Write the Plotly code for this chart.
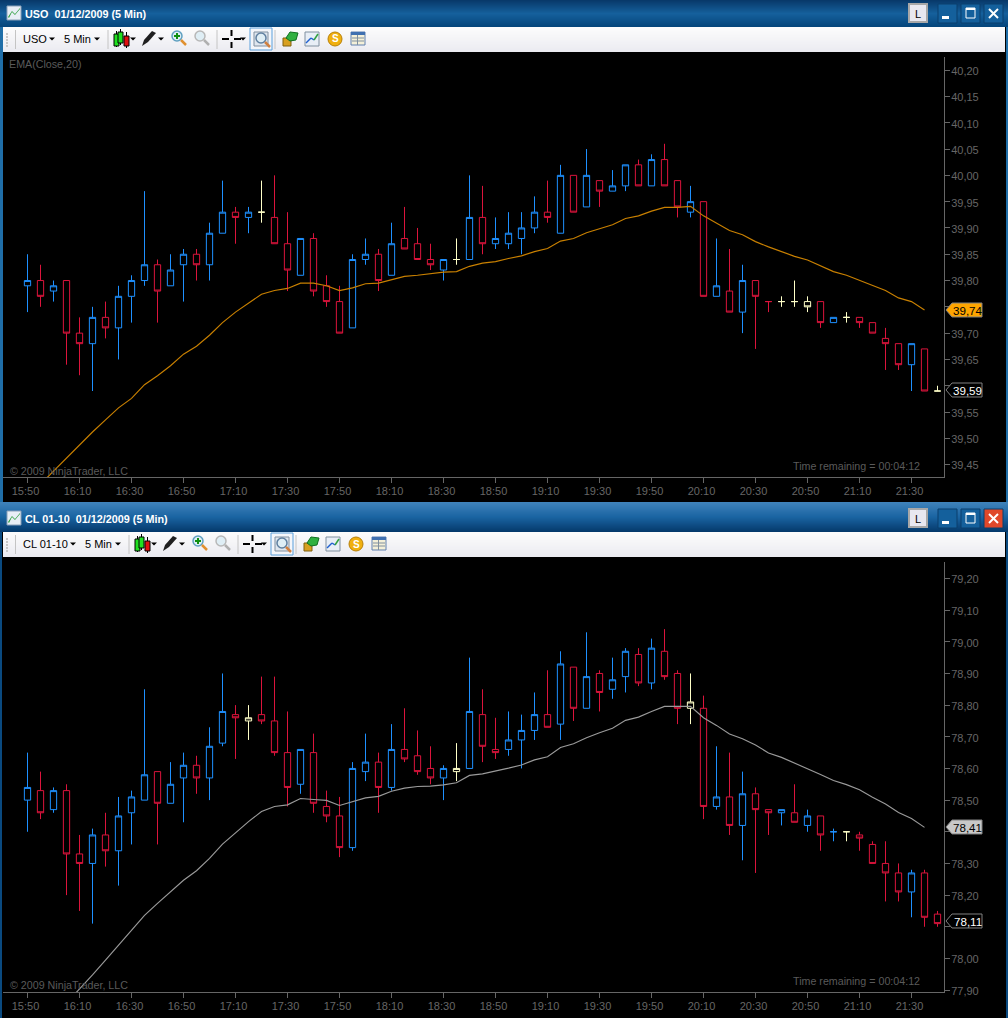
import plotly.graph_objects as go
import pandas as pd

# 5 minute bars, 01/12/2009
bar_times = pd.date_range("2009-12-01 15:50", "2009-12-01 21:40", freq="5min")

# b = blue, r = red, y = pale yellow bar
uso_kind = list("brbrrbrbbbrbbrbbrbyrrbrrrbbrbrrrbybrbbbbrbrbrbbrbrrbrbrbrryyyrbyrrrrbry")
uso_open = [39.79,39.80,39.78,39.80,39.70,39.68,39.73,39.71,39.77,39.80,39.83,39.79,39.83,39.85,39.83,39.89,39.93,39.92,39.93,39.92,
            39.87,39.81,39.88,39.79,39.76,39.71,39.84,39.85,39.81,39.88,39.87,39.84,39.82,39.84,39.84,39.92,39.87,39.87,39.88,39.90,
            39.93,39.89,40.00,39.94,39.99,39.97,39.98,40.02,39.98,40.03,39.99,39.93,39.95,39.77,39.78,39.74,39.80,39.76,39.76,39.76,
            39.76,39.76,39.72,39.73,39.73,39.72,39.69,39.68,39.64,39.67,39.59]
uso_high = [39.85,39.83,39.80,39.80,39.73,39.75,39.76,39.79,39.81,39.97,39.84,39.85,39.86,39.86,39.91,39.99,39.94,39.94,39.99,40.00,
            39.93,39.88,39.89,39.81,39.79,39.85,39.88,39.86,39.91,39.94,39.90,39.87,39.84,39.88,40.00,39.98,39.92,39.93,39.93,39.96,
            39.99,40.02,40.00,40.05,39.99,40.01,40.02,40.03,40.04,40.06,39.99,39.98,39.95,39.88,39.86,39.83,39.80,39.76,39.77,39.80,
            39.77,39.76,39.73,39.74,39.73,39.72,39.71,39.68,39.68,39.67,39.60]
uso_low = [39.74,39.75,39.76,39.64,39.62,39.59,39.69,39.65,39.72,39.79,39.72,39.79,39.76,39.80,39.80,39.89,39.87,39.89,39.91,39.87,
           39.78,39.81,39.77,39.75,39.70,39.71,39.83,39.78,39.81,39.86,39.84,39.82,39.80,39.83,39.84,39.85,39.86,39.86,39.85,39.89,
           39.91,39.89,39.93,39.94,39.94,39.97,39.97,39.98,39.98,39.98,39.92,39.92,39.77,39.77,39.74,39.70,39.67,39.74,39.75,39.75,
           39.74,39.71,39.72,39.72,39.71,39.70,39.63,39.63,39.59,39.59,39.59]
uso_close = [39.80,39.77,39.79,39.70,39.68,39.73,39.71,39.77,39.80,39.83,39.78,39.82,39.85,39.83,39.89,39.93,39.92,39.93,39.93,39.87,
             39.82,39.88,39.78,39.76,39.70,39.84,39.85,39.80,39.87,39.86,39.84,39.83,39.84,39.84,39.92,39.87,39.88,39.89,39.90,39.93,
             39.92,40.00,39.93,40.00,39.97,39.98,40.02,39.98,40.03,39.98,39.94,39.95,39.77,39.79,39.74,39.80,39.77,39.76,39.76,39.76,
             39.75,39.72,39.73,39.73,39.72,39.70,39.68,39.64,39.68,39.59,39.59]
uso_ema = [39.388,39.413,39.438,39.463,39.487,39.512,39.535,39.558,39.576,39.602,39.619,39.638,39.660,39.675,39.696,39.720,39.740,39.757,
           39.774,39.781,39.785,39.795,39.795,39.790,39.781,39.786,39.794,39.795,39.802,39.808,39.810,39.813,39.816,39.817,39.827,39.833,
           39.836,39.842,39.847,39.855,39.861,39.875,39.880,39.891,39.899,39.906,39.918,39.923,39.932,39.939,39.939,39.941,39.923,39.909,
           39.895,39.887,39.874,39.864,39.855,39.846,39.839,39.828,39.817,39.810,39.800,39.791,39.781,39.767,39.760,39.744]
# labels behind the value tags stay blank
uso_ticks = [39.45,39.50,39.55,39.60,39.65,39.70,39.75,39.80,39.85,39.90,39.95,40.00,40.05,40.10,40.15,40.20]
uso_tick_labels = ["39,45","39,50","39,55","","39,65","39,70","","39,80","39,85","39,90","39,95","40,00","40,05","40,10","40,15","40,20"]

cl_kind = list("brbrrbrbbbrbbrbbryrrrbrrrbbrbrrrbybrrbbbrbrbrbbrbrryrbrbrrbrbrbyrrrrbrr")
cl_open = [78.50,78.53,78.47,78.53,78.33,78.30,78.39,78.34,78.46,78.50,78.59,78.49,78.57,78.61,78.57,78.68,78.77,78.75,78.77,78.75,
           78.65,78.55,78.65,78.48,78.45,78.35,78.59,78.62,78.54,78.66,78.64,78.60,78.57,78.59,78.60,78.77,78.66,78.66,78.69,78.72,
           78.77,78.74,78.92,78.79,78.90,78.85,78.89,78.96,78.87,78.97,78.90,78.79,78.79,78.48,78.51,78.42,78.52,78.47,78.46,78.46,
           78.42,78.45,78.40,78.40,78.39,78.36,78.30,78.27,78.21,78.27,78.14]
cl_high = [78.65,78.59,78.54,78.55,78.39,78.41,78.46,78.51,78.53,78.85,78.59,78.62,78.65,78.64,78.73,78.90,78.80,78.80,78.89,78.89,
           78.78,78.66,78.71,78.53,78.51,78.62,78.71,78.65,78.74,78.79,78.72,78.67,78.61,78.68,78.95,78.85,78.76,78.78,78.77,78.84,
           78.91,78.97,78.92,79.03,78.91,78.95,78.98,78.98,79.01,79.04,78.91,78.90,78.83,78.67,78.65,78.59,78.54,78.47,78.47,78.55,
           78.47,78.45,78.41,78.40,78.40,78.37,78.37,78.30,78.28,78.28,78.15]
cl_low = [78.40,78.44,78.46,78.20,78.15,78.11,78.29,78.23,78.36,78.50,78.36,78.49,78.43,78.52,78.50,78.67,78.63,78.69,78.74,78.64,
          78.48,78.52,78.46,78.43,78.32,78.34,78.56,78.46,78.53,78.62,78.58,78.55,78.50,78.56,78.60,78.62,78.63,78.64,78.60,78.69,
          78.73,78.69,78.75,78.79,78.78,78.82,78.84,78.86,78.85,78.88,78.74,78.74,78.44,78.47,78.39,78.31,78.27,78.39,78.42,78.43,
          78.40,78.34,78.37,78.37,78.34,78.30,78.18,78.18,78.13,78.10,78.10]
cl_close = [78.54,78.46,78.53,78.33,78.30,78.39,78.34,78.45,78.51,78.58,78.49,78.55,78.61,78.57,78.67,78.78,78.76,78.76,78.75,78.65,
            78.54,78.66,78.49,78.45,78.35,78.60,78.62,78.54,78.66,78.63,78.59,78.57,78.60,78.60,78.78,78.67,78.65,78.69,78.72,78.77,
            78.73,78.93,78.79,78.89,78.84,78.88,78.97,78.87,78.98,78.89,78.79,78.81,78.48,78.51,78.42,78.52,78.47,78.46,78.47,78.43,
            78.45,78.39,78.40,78.40,78.38,78.30,78.27,78.21,78.27,78.13,78.11]
cl_ema = [77.726,77.770,77.815,77.859,77.903,77.948,77.995,78.042,78.086,78.136,78.174,78.210,78.247,78.277,78.316,78.361,78.397,78.432,
          78.464,78.480,78.485,78.505,78.502,78.499,78.483,78.494,78.507,78.512,78.528,78.538,78.543,78.544,78.548,78.555,78.578,78.583,
          78.591,78.601,78.611,78.627,78.637,78.666,78.678,78.697,78.713,78.727,78.752,78.762,78.780,78.796,78.796,78.796,78.760,78.736,
          78.709,78.694,78.674,78.649,78.635,78.617,78.601,78.581,78.562,78.549,78.533,78.509,78.488,78.461,78.442,78.414]
cl_ticks = [77.90,78.00,78.10,78.20,78.30,78.40,78.50,78.60,78.70,78.80,78.90,79.00,79.10,79.20]
cl_tick_labels = ["77,90","78,00","","78,20","78,30","","78,50","78,60","78,70","78,80","78,90","79,00","79,10","79,20"]

W = 1008
H = 1018
GREY = "#666666"
FONT = "Liberation Sans"
COLORS = {"b": "#1e90ff", "r": "#dc143c", "y": "#ffffc8"}

shapes = []
annots = []


def px(x):
    return x / W


def py(y):
    return 1 - y / H


def rect(x0, y0, x1, y1, fill, line=None, lw=1):
    shapes.append(dict(type="rect", xref="paper", yref="paper", x0=px(x0), x1=px(x1), y0=py(y0), y1=py(y1),
                       fillcolor=fill, line=dict(color=line or fill, width=lw if line else 0)))


def seg(x0, y0, x1, y1, color, lw=1):
    shapes.append(dict(type="line", xref="paper", yref="paper", x0=px(x0), x1=px(x1), y0=py(y0), y1=py(y1),
                       line=dict(color=color, width=lw)))


def poly(points, fill, line=None, lw=1):
    path = "M " + " L ".join(f"{px(x):.5f},{py(y):.5f}" for x, y in points) + " Z"
    shapes.append(dict(type="path", xref="paper", yref="paper", path=path, fillcolor=fill,
                       line=dict(color=line or fill, width=lw if line else 0)))


def text(x, y, s, color, size=10.7, bold=False, anchor="left"):
    annots.append(dict(xref="paper", yref="paper", x=px(x), y=py(y), text=f"<b>{s}</b>" if bold else s, showarrow=False,
                       xanchor=anchor, yanchor="middle", font=dict(family=FONT, size=size, color=color), borderpad=0))


def mix(a, b, t):
    ca = [int(a[i:i + 2], 16) for i in (1, 3, 5)]
    cb = [int(b[i:i + 2], 16) for i in (1, 3, 5)]
    return "#" + "".join(f"{round(p + (q - p) * t):02x}" for p, q in zip(ca, cb))


def gradient(x0, y0, x1, y1, stops):
    n = len(stops) - 1
    for y in range(y0, y1):
        t = (y - y0) / max(1, y1 - y0 - 1) * n
        i = min(int(t), n - 1)
        rect(x0, y, x1, y + 1, mix(stops[i], stops[i + 1], t - i))


def arrow(x, y):
    poly([(x - 3, y - 1.5), (x + 3, y - 1.5), (x, y + 1.5)], "#000000")


def magnifier(x, y, glass, handle):
    shapes.append(dict(type="circle", xref="paper", yref="paper", x0=px(x), x1=px(x + 10), y0=py(y), y1=py(y + 10),
                       fillcolor="#dfeef5", line=dict(color=glass, width=1.5)))
    seg(x + 9, y + 9, x + 14, y + 14, handle, 2.5)


def window(frame_top, top, title, symbol, shift, stops, close_col):
    # title bar
    gradient(0, frame_top, W, top + 27, stops)
    rect(7, top + 6, 21, top + 20, "#e8eef6", "#8aa0b8")
    poly([(8, top + 17), (12, top + 11), (15, top + 14), (20, top + 8), (20, top + 9), (15, top + 15), (12, top + 12), (9, top + 18)], "#30a040")
    text(24, top + 14, title, "#ffffff", 10.8, bold=True)
    # window buttons
    rect(909, top + 4, 927, top + 22, "#e8e8f0", "#a8a8a8", 2)
    text(918, top + 14, "L", "#000000", 11, anchor="center")
    for x0, fill in ((938, "#14609c"), (961, "#14609c"), (984, close_col)):
        rect(x0, top + 4, x0 + 19, top + 23, fill, "#0a3e6c")
    rect(942, top + 16, 949, top + 19, "#ffffff")
    rect(966, top + 8, 975, top + 18, "#14609c", "#ffffff", 1)
    rect(966, top + 8, 975, top + 10, "#ffffff")
    seg(989, top + 9, 998, top + 18, "#ffffff", 2)
    seg(998, top + 9, 989, top + 18, "#ffffff", 2)
    # toolbar
    y0 = top + 27
    gradient(3, y0, 1005, y0 + 25, ["#fcfcfc", "#ebebf1"])
    cy = y0 + 12
    for gy in range(y0 + 6, y0 + 20, 3):
        rect(6, gy, 8, gy + 2, "#c8c8c8")
    seg(15.5, y0 + 3, 15.5, y0 + 22, "#c4c4c4")
    text(22, cy, symbol, "#000000", 11)
    arrow(52 + shift, cy)
    text(63 + shift, cy, "5 Min", "#000000", 11)
    arrow(97 + shift, cy)
    seg(108 + shift, y0 + 3, 108 + shift, y0 + 22, "#c4c4c4")
    # candle icon
    seg(116.5 + shift, cy - 8, 116.5 + shift, cy + 8, "#000000")
    rect(114 + shift, cy - 5, 119 + shift, cy + 7, "#20e020", "#000000")
    seg(120.5 + shift, cy - 10, 120.5 + shift, cy + 6, "#000000")
    rect(118 + shift, cy - 7, 123 + shift, cy + 4, "#20e020", "#000000")
    seg(126.5 + shift, cy - 7, 126.5 + shift, cy + 9, "#000000")
    rect(124 + shift, cy - 3, 129 + shift, cy + 7, "#e01010", "#000000")
    arrow(133 + shift, cy)
    # pencil
    poly([(142 + shift, cy + 7), (144 + shift, cy + 1), (152 + shift, cy - 8), (156 + shift, cy - 6), (148 + shift, cy + 3)], "#202020")
    arrow(161 + shift, cy)
    magnifier(172 + shift, cy - 8, "#60a0c0", "#e09030")
    seg(177 + shift, cy - 6, 177 + shift, cy, "#109010", 2)
    seg(174 + shift, cy - 3, 180 + shift, cy - 3, "#109010", 2)
    magnifier(195 + shift, cy - 8, "#b8b8b8", "#b0b0b0")
    seg(217 + shift, y0 + 3, 217 + shift, y0 + 22, "#c4c4c4")
    # crosshair
    seg(222 + shift, cy, 229 + shift, cy, "#000000", 2)
    seg(234 + shift, cy, 241 + shift, cy, "#000000", 2)
    seg(231.5 + shift, cy - 9, 231.5 + shift, cy - 3, "#000000", 2)
    seg(231.5 + shift, cy + 3, 231.5 + shift, cy + 9, "#000000", 2)
    arrow(243 + shift, cy)
    # selected button
    rect(250 + shift, y0 + 1, 272 + shift, y0 + 23, "#f4f6fa", "#5aa0dc")
    rect(254 + shift, cy - 7, 268 + shift, cy + 7, "#dfe6ee", "#8090a0")
    magnifier(256 + shift, cy - 6, "#6080a0", "#d08040")
    seg(275 + shift, y0 + 3, 275 + shift, y0 + 22, "#c4c4c4")
    # remaining icons
    rect(283 + shift, cy - 1, 291 + shift, cy + 7, "#d8a020", "#806010")
    poly([(286 + shift, cy - 1), (290 + shift, cy - 7), (298 + shift, cy - 6), (296 + shift, cy + 1), (290 + shift, cy + 2)], "#30b040", "#107020")
    rect(305 + shift, cy - 7, 319 + shift, cy + 7, "#e8eef6", "#8090a0")
    seg(306 + shift, cy + 4, 311 + shift, cy - 1, "#2060d0", 1.5)
    seg(311 + shift, cy - 1, 314 + shift, cy + 1, "#2060d0", 1.5)
    seg(314 + shift, cy + 1, 318 + shift, cy - 5, "#30a040", 1.5)
    shapes.append(dict(type="circle", xref="paper", yref="paper", x0=px(328 + shift), x1=px(342 + shift), y0=py(cy - 7), y1=py(cy + 7),
                       fillcolor="#f0b010", line=dict(color="#b88008", width=1)))
    text(335 + shift, cy, "S", "#ffffff", 10, bold=True, anchor="center")
    rect(351 + shift, cy - 7, 365 + shift, cy + 6, "#f4f0d8", "#6080b0")
    rect(351 + shift, cy - 7, 365 + shift, cy - 4, "#4070b0")
    for gy in (cy - 1, cy + 2):
        seg(352 + shift, gy, 364 + shift, gy, "#8090a0")
    seg(357.5 + shift, cy - 4, 357.5 + shift, cy + 6, "#8090a0")


def tag(y, label, fill, txt_color):
    poly([(946, y), (952, y - 7), (982, y - 7), (982, y + 7), (952, y + 7)], fill, "#808080")
    text(967.5, y, label, txt_color, 11.6, anchor="center")


def add_bars(fig, kind, o, h, l, c, ema, ema_color, xa, ya):
    for k, color in COLORS.items():
        idx = [i for i, v in enumerate(kind) if v == k]
        side = dict(line=dict(color=color, width=1), fillcolor="#000000")
        fig.add_trace(go.Candlestick(x=[bar_times[i] for i in idx], open=[o[i] for i in idx], high=[h[i] for i in idx],
                                     low=[l[i] for i in idx], close=[c[i] for i in idx], increasing=side, decreasing=side,
                                     whiskerwidth=0, showlegend=False, xaxis=xa, yaxis=ya, hoverinfo="skip"))
    fig.add_trace(go.Scatter(x=bar_times[:len(ema)], y=ema, mode="lines", line=dict(color=ema_color, width=1.15), showlegend=False,
                             xaxis=xa, yaxis=ya, hoverinfo="skip"))


fig = go.Figure()
add_bars(fig, uso_kind, uso_open, uso_high, uso_low, uso_close, uso_ema, "#c98000", "x", "y")
add_bars(fig, cl_kind, cl_open, cl_high, cl_low, cl_close, cl_ema, "#9a9a9a", "x2", "y2")

# side borders and window chrome
rect(0, 0, 3, 502, "#1f6ea8")
rect(1006, 0, 1008, 502, "#1f6ea8")
rect(0, 502, 2, 1018, "#0a4a80")
rect(1006, 502, 1008, 1018, "#0a4a80")
window(0, 0, "USO&nbsp;&nbsp;01/12/2009 (5 Min)", "USO", 0, ["#08396a", "#15609c", "#05467c"], "#14609c")
window(502, 505, "CL 01-10&nbsp;&nbsp;01/12/2009 (5 Min)", "CL 01-10", 21, ["#3f82ba", "#1a64a2", "#053a6c"], "#e0482a")

# chart texts
text(8, 64, "EMA(Close,20)", "#5a5a5a")
text(9, 471, "© 2009 NinjaTrader, LLC", "#5a5a5a")
text(921, 466, "Time remaining = 00:04:12", "#5a5a5a", anchor="right")
text(9, 985, "© 2009 NinjaTrader, LLC", "#5a5a5a")
text(921, 981, "Time remaining = 00:04:12", "#5a5a5a", anchor="right")

# last value tags
tag(310, f"{uso_ema[-1]:.2f}".replace(".", ","), "#ffa500", "#000000")
tag(390, f"{uso_close[-1]:.2f}".replace(".", ","), "#000000", "#ffffff")
tag(827, f"{cl_ema[-1]:.2f}".replace(".", ","), "#c8c8c8", "#000000")
tag(921, f"{cl_close[-1]:.2f}".replace(".", ","), "#000000", "#ffffff")

start = pd.Timestamp("2009-12-01 15:50")
x_range = [start - pd.Timedelta(minutes=9.423), start + pd.Timedelta(minutes=352.5)]
x_style = dict(range=x_range, domain=[3 / W, 944 / W], type="date", tickformat="%H:%M", dtick=1200000, tick0=start,
               ticks="outside", ticklen=5, tickcolor=GREY, showline=True, linecolor=GREY, showgrid=False, zeroline=False,
               ticklabelstandoff=-1, ticklabelshift=-2,
               tickfont=dict(family=FONT, size=11, color=GREY), rangeslider=dict(visible=False))
y_style = dict(side="right", tickmode="array", ticks="outside", ticklen=5, tickcolor=GREY, showline=True, linecolor=GREY,
               showgrid=False, zeroline=False, ticklabelstandoff=-1, ticklabelshift=1,
               tickfont=dict(family=FONT, size=11, color=GREY))

fig.update_layout(
    width=W, height=H,
    margin=dict(l=0, r=0, t=0, b=0, autoexpand=False),
    paper_bgcolor="#000000", plot_bgcolor="#000000",
    showlegend=False,
    boxgap=0.31,
    shapes=shapes,
    annotations=annots,
    xaxis=dict(anchor="y", **x_style),
    yaxis=dict(anchor="x", domain=[1 - 477 / H, 1 - 57 / H], range=[39.4265, 40.225],
               tickvals=uso_ticks, ticktext=uso_tick_labels, **y_style),
    xaxis2=dict(anchor="y2", **x_style),
    yaxis2=dict(anchor="x2", domain=[1 - 992 / H, 1 - 562 / H], range=[77.894, 79.252],
                tickvals=cl_ticks, ticktext=cl_tick_labels, **y_style),
)

fig.write_html("out.html", config=dict(displayModeBar=False),
               post_script="document.body.style.margin='0';document.body.style.overflow='hidden';")
